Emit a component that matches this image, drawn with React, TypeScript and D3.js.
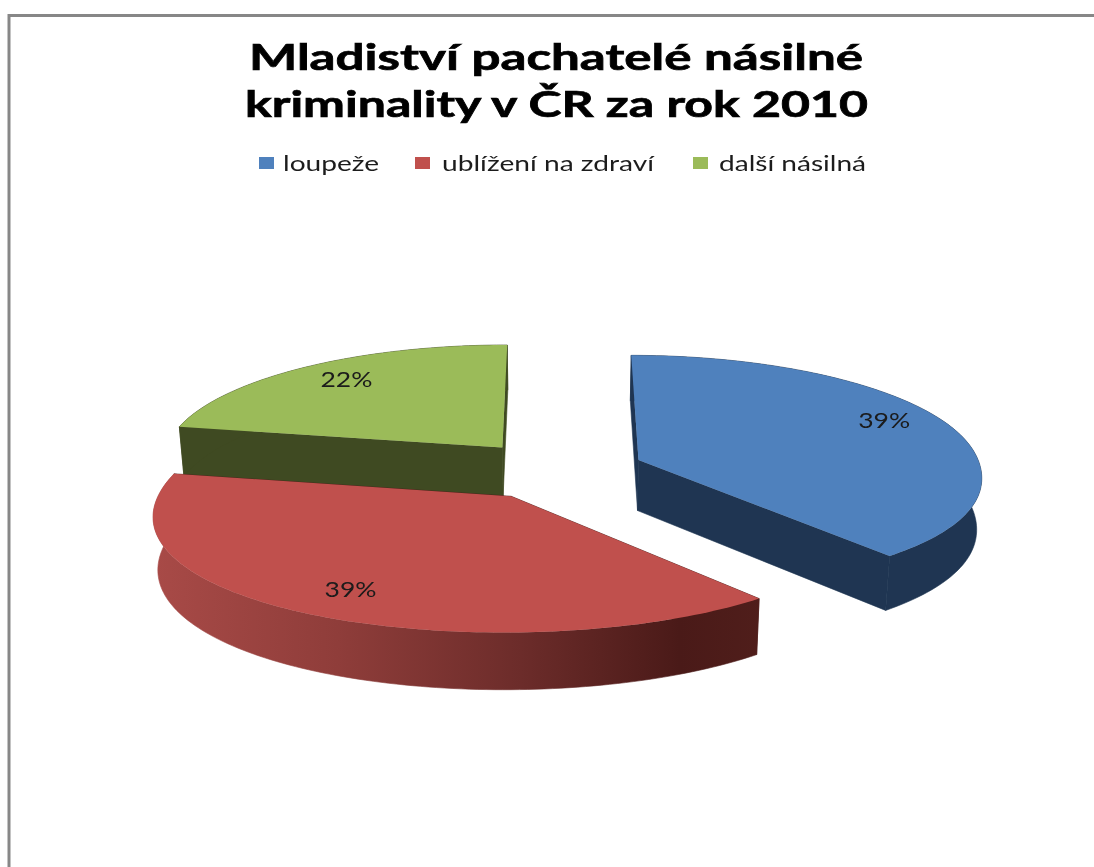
import React from "react";
import * as d3 from "d3";

const titleLines = ["Mladiství pachatelé násilné", "kriminality v ČR za rok 2010"];
const categories = ["loupeže", "ublížení na zdraví", "další násilná"];
const values = [39, 39, 22];
const labels = ["39%", "39%", "22%"];
const topColors = ["#4f81bd", "#c0504d", "#9bbb59"];
const wallColors = ["#1f3552", "url(#redWall)", "#3f4a22"];
const edgeColors = ["#1f3552", "#4c1c19", "#3f4a22"];

const W = 1094, H = 867;
const CX = 557, CY = 470, RX = 343, RY = 117, KX_MID = 0.12, KX_SPREAD = 0.02, KY = 0.1, EXPLODE = 0.255, DEPTH = 51, LABEL_R = 0.78;
const FONT = "Lato, 'Open Sans', sans-serif";

const titleLayout = [
  { x0: 249, x1: 863, y: 70 },
  { x0: 245, x1: 868, y: 117 },
];
const legendLayout = [
  { sx: 259, tx0: 283, tx1: 379 },
  { sx: 415, tx0: 442, tx1: 654 },
  { sx: 693, tx0: 719, tx1: 866 },
];
const labelNudge = [
  [5, -9],
  [0, 6],
  [-1, -4],
];

const pieGen = d3.pie<number>().sort(null).value((d) => d);
const arcs = pieGen(values);

function project(wx: number, wv: number, h: number): [number, number] {
  const kx = KX_MID + KX_SPREAD * Math.tanh(wv * 3);
  const sx = 1 / (1 - kx * wv);
  const sy = 1 / (1 - KY * wv);
  const shrink = 1 - 0.012 * h;
  return [CX + RX * wx * sx * shrink, CY + RY * wv * sy + h * DEPTH * (1 + 0.1 * wv)];
}

const line = d3.line<[number, number]>();

export default function App() {
  const slices = arcs.map((a, i) => {
    const mid = (a.startAngle + a.endAngle) / 2;
    const ex = EXPLODE * Math.sin(mid);
    const ev = -EXPLODE * Math.cos(mid);
    const outer = (t: number, h: number) => project(ex + Math.sin(t), ev - Math.cos(t), h);
    const ts = d3.range(0, 121).map((j) => a.startAngle + ((a.endAngle - a.startAngle) * j) / 120);
    const apexT = project(ex, ev, 0);
    const apexB = project(ex, ev, 1);
    const arcTop = ts.map((t) => outer(t, 0));
    const arcBot = ts.map((t) => outer(t, 1));
    const top = line([apexT, ...arcTop])! + "Z";
    const wall = line([...arcTop, ...arcBot.slice().reverse()])! + "Z";
    const cutStart = line([apexT, arcTop[0], arcBot[0], apexB])! + "Z";
    const cutEnd = line([apexT, arcTop[120], arcBot[120], apexB])! + "Z";
    const lab = project(ex + LABEL_R * Math.sin(mid), ev - LABEL_R * Math.cos(mid), 0);
    return { i, top, wall, cutStart, cutEnd, lab };
  });
  const order = [0, 2, 1];
  return (
    <svg width={W} height={H} style={{ position: "absolute", left: 0, top: 0 }} fontFamily={FONT}>
      <defs>
        <linearGradient id="redWall" gradientUnits="userSpaceOnUse" x1={155} x2={765} y1={0} y2={0}>
          <stop offset="0" stopColor="#a84a47" />
          <stop offset="0.3" stopColor="#8f3d3a" />
          <stop offset="0.6" stopColor="#6c2c2a" />
          <stop offset="0.86" stopColor="#4a1a18" />
          <stop offset="1" stopColor="#501e1b" />
        </linearGradient>
        <filter id="soft" x="-5%" y="-20%" width="110%" height="140%">
          <feGaussianBlur stdDeviation="0.55" />
        </filter>
      </defs>
      <rect width={W} height={H} fill="#fff" />
      <path d={`M9,867V15.5H1094`} fill="none" stroke="#878787" strokeWidth={3} />
      <g filter="url(#soft)">
        {titleLines.map((t, i) => (
          <text
            key={t}
            x={titleLayout[i].x0}
            y={titleLayout[i].y}
            fontSize={37}
            fontWeight={700}
            fill="#000"
            stroke="#000"
            strokeWidth={0.7}
            textLength={titleLayout[i].x1 - titleLayout[i].x0}
            lengthAdjust="spacingAndGlyphs"
          >
            {t}
          </text>
        ))}
        {categories.map((c, i) => (
          <text
            key={c}
            x={legendLayout[i].tx0}
            y={171}
            fontSize={21}
            fill="#1c1c1c"
            textLength={legendLayout[i].tx1 - legendLayout[i].tx0}
            lengthAdjust="spacingAndGlyphs"
          >
            {c}
          </text>
        ))}
      </g>
      {categories.map((c, i) => (
        <rect key={c} x={legendLayout[i].sx} y={157} width={15} height={12} fill={topColors[i]} />
      ))}
      {order.map((i) => {
        const s = slices[i];
        return (
          <g key={i}>
            <path d={s.cutStart} fill={edgeColors[i]} stroke={edgeColors[i]} strokeWidth={0.6} />
            <path d={s.cutEnd} fill={edgeColors[i]} stroke={edgeColors[i]} strokeWidth={0.6} />
            <path d={s.wall} fill={wallColors[i]} stroke={wallColors[i]} strokeWidth={0.6} />
            <path d={s.top} fill={topColors[i]} />
          </g>
        );
      })}
      <g filter="url(#soft)">
        {order.map((i) => (
          <text
            key={i}
            x={slices[i].lab[0] + labelNudge[i][0]}
            y={slices[i].lab[1] + 7 + labelNudge[i][1]}
            textAnchor="middle"
            fontSize={21}
            fill="#1a1a1a"
            textLength={52}
            lengthAdjust="spacingAndGlyphs"
          >
            {labels[i]}
          </text>
        ))}
      </g>
    </svg>
  );
}
